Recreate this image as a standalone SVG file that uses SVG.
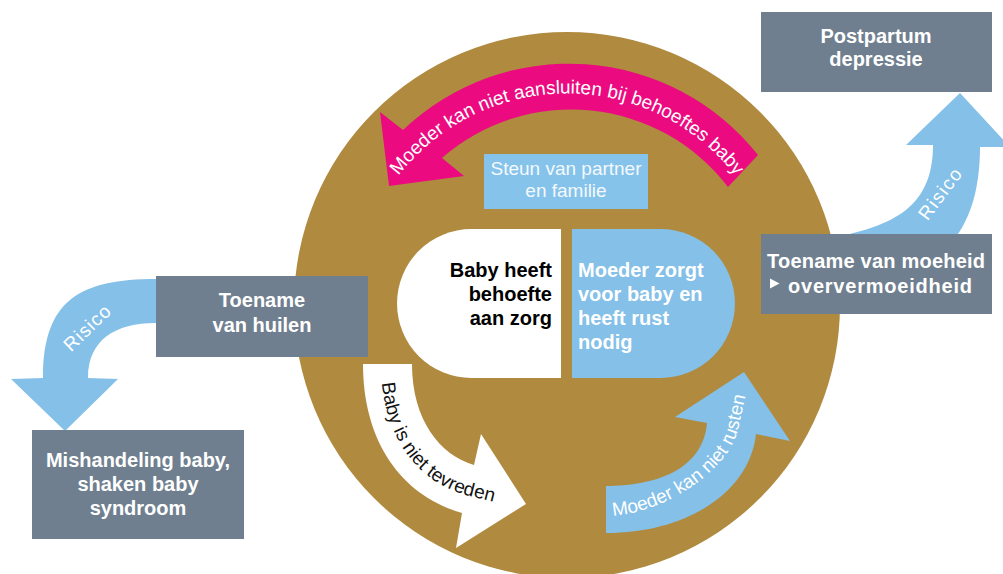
<svg xmlns="http://www.w3.org/2000/svg" width="1003" height="574" viewBox="0 0 1003 574">
<style>
.box{fill:#6f7f8f}
.bt{font-family:"Liberation Sans",Arial,sans-serif;font-weight:bold;font-size:20px;fill:#ffffff}
.lt{font-family:"Liberation Sans",Arial,sans-serif;font-size:19px}
.blue{fill:#84c0e8}
</style>
<rect width="1003" height="574" fill="#ffffff"/>
<g id="cycle">
<circle cx="567" cy="305" r="273" fill="#b08a3e"/>
</g>
<g id="connectors">
<g id="arrow-moeder-aansluiten">
<path d="M 758,155 A 241 241 0 0 0 403,130 L 380,112 L 389,186 L 464,176 L 442,158 A 197 197 0 0 1 728,187 Z" fill="#eb0a80"/>
<path id="pinkText" d="M 382.1,200.25 A 213.5 213.5 0 0 1 751.9,200.25" fill="none"/>
<text class="lt" fill="#ffffff" font-size="18.5"><textPath href="#pinkText" startOffset="50%" text-anchor="middle">Moeder kan niet aansluiten bij behoeftes baby</textPath></text>
</g>
<g id="arrow-baby-niet-tevreden">
<path d="M 363,364 L 412,364 C 412,420 440,455 474,465 L 481,434 L 526,504 L 456,548 L 462,513 C 400,495 363,440 363,364 Z" fill="#ffffff"/>
<path id="whiteText" d="M 381,364 C 381,435 416,481 466,495 L 530,511" fill="none"/>
<text class="lt" fill="#111111"><textPath href="#whiteText" startOffset="19">Baby is niet tevreden</textPath></text>
</g>
<g id="arrow-moeder-niet-rusten">
<path class="blue" d="M 606,486 C 655,486 703,470 707,423 L 675,417 L 744,372 L 790,441 L 756,434 C 750,490 690,533 606,533 Z"/>
<path id="blueText" d="M 606,516 C 662,516 729,470 738,429.5 L 750,375" fill="none"/>
<text class="lt" fill="#ffffff"><textPath href="#blueText" startOffset="7">Moeder kan niet rusten</textPath></text>
</g>
<g id="arrow-risico-left">
<path class="blue" d="M 170,279 L 156,279 C 80,279 43,300 43,378 L 11,379 L 65,431 L 118,379 L 88,378 C 88,340 115,323 156,323 L 170,323 Z"/>
<text class="lt" fill="#ffffff" font-size="18" text-anchor="middle" transform="translate(87,328) rotate(-44)" x="0" y="6.5" textLength="57" lengthAdjust="spacing">Risico</text>
</g>
<g id="arrow-risico-right">
<path class="blue" d="M 820,240 C 890,228 933,210 933,145 L 906,145 L 960,93 L 1010,147 L 980,147 C 980,215 955,270 870,285 Z"/>
<text class="lt" fill="#ffffff" font-size="18" text-anchor="middle" transform="translate(940,194) rotate(-53)" x="0" y="6.5" textLength="59" lengthAdjust="spacing">Risico</text>
</g>
</g>
<g id="steun">
<rect x="484" y="154" width="164" height="55" fill="#85c3ea"/>
<text class="lt" fill="#f4f9fd" font-size="16.5" text-anchor="middle" x="566" y="174.5">Steun van partner</text>
<text class="lt" fill="#f4f9fd" font-size="16.5" text-anchor="middle" x="566" y="197">en familie</text>
</g>
<g id="baby-behoefte">
<path d="M 561,229 L 471.5,229 A 74.5 74.5 0 0 0 471.5,378 L 561,378 Z" fill="#ffffff"/>
<text class="bt" style="fill:#000000" text-anchor="end"><tspan x="552" y="277">Baby heeft</tspan><tspan x="552" y="301">behoefte</tspan><tspan x="552" y="325">aan zorg</tspan></text>
</g>
<g id="moeder-zorgt">
<path class="blue" d="M 572,229 L 660.5,229 A 74.5 74.5 0 0 1 660.5,378 L 572,378 Z"/>
<text class="bt"><tspan x="578" y="277">Moeder zorgt</tspan><tspan x="578" y="301">voor baby en</tspan><tspan x="578" y="325">heeft rust</tspan><tspan x="578" y="349">nodig</tspan></text>
</g>
<g id="postpartum">
<rect class="box" x="761" y="12" width="231" height="80"/>
<text class="bt" text-anchor="middle"><tspan x="876" y="43">Postpartum</tspan><tspan x="876" y="66">depressie</tspan></text>
</g>
<g id="moeheid">
<rect class="box" x="761" y="234" width="231" height="80"/>
<text class="bt" x="767" y="268" textLength="218" lengthAdjust="spacing">Toename van moeheid</text>
<text class="bt" x="788" y="293" textLength="184" lengthAdjust="spacing">oververmoeidheid</text>
<path d="M 770,278.5 L 779.5,283.5 L 770,288.5 Z" fill="#ffffff"/>
</g>
<g id="huilen">
<rect class="box" x="156" y="276" width="212" height="81"/>
<text class="bt" text-anchor="middle"><tspan x="262" y="307">Toename</tspan><tspan x="262" y="332">van huilen</tspan></text>
</g>
<g id="mishandeling">
<rect class="box" x="32" y="430" width="212" height="109"/>
<text class="bt" text-anchor="middle"><tspan x="138" y="467">Mishandeling baby,</tspan><tspan x="138" y="491">shaken baby</tspan><tspan x="138" y="515">syndroom</tspan></text>
</g>
</svg>
